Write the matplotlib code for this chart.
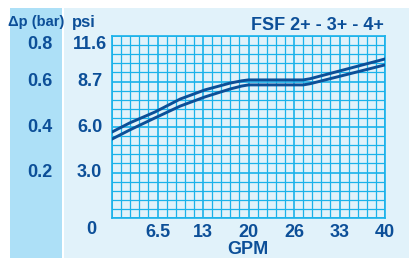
import numpy as np
import matplotlib.pyplot as plt
from matplotlib.patches import Rectangle

plt.rcParams['font.family'] = ['Liberation Sans', 'DejaVu Sans']

# data (GPM vs pressure drop in bar)
gpm_upper = [0, 2.6, 6.3, 10, 13.6, 17.3, 19, 20, 28, 29, 40]
bar_upper = [0.378, 0.418, 0.466, 0.523, 0.563, 0.593, 0.603, 0.607, 0.607, 0.612, 0.699]
gpm_lower = [0, 2.6, 6.3, 10, 13.6, 17.3, 19, 20, 28, 29, 40]
bar_lower = [0.347, 0.387, 0.440, 0.492, 0.532, 0.567, 0.580, 0.585, 0.585, 0.590, 0.673]

x_ticks = [0, 40/6, 80/6, 20, 160/6, 200/6, 40]
x_labels = ['', '6.5', '13', '20', '26', '33', '40']
bar_ticks = [0.2, 0.4, 0.6, 0.8]
bar_labels = ['0.2', '0.4', '0.6', '0.8']
psi_labels = ['3.0', '6.0', '8.7', '11.6']

dark = '#0c4f98'
cyan = '#1ab2ea'
fs = 13

fig = plt.figure(figsize=(4.09, 2.58), dpi=100)
fig.patch.set_facecolor('white')
# background panels
fig.add_artist(Rectangle((10/409, 0), 52/409, 250/258, transform=fig.transFigure,
                         facecolor='#ade0f7', edgecolor='none', zorder=0))
fig.add_artist(Rectangle((64/409, 0), 345/409, 250/258, transform=fig.transFigure,
                         facecolor='#e1f2fa', edgecolor='none', zorder=0))

ax = fig.add_axes([112/409, 40/258, 273/409, 182/258])
ax.set_facecolor('#e1f2fa')

ax.plot(gpm_upper, bar_upper, color=dark, lw=2.1, solid_joinstyle='round', zorder=5)
ax.plot(gpm_lower, bar_lower, color=dark, lw=2.1, solid_joinstyle='round', zorder=5)

ax.set_xlim(0, 40)
ax.set_ylim(0, 0.8)
ax.set_xticks(np.linspace(0, 40, 31), minor=True)
ax.set_yticks(np.linspace(0, 0.8, 21), minor=True)
ax.set_xticks(x_ticks)
ax.set_xticklabels(x_labels, fontsize=fs, fontweight='bold', color=dark)
ax.set_yticks([0] + bar_ticks)
ax.tick_params(which='both', length=0)
ax.tick_params(axis='x', pad=4)
ax.tick_params(axis='y', labelleft=False)
ax.grid(which='minor', color=cyan, lw=0.9)
ax.grid(which='major', color=cyan, lw=1.2)
ax.set_axisbelow(True)
for s in ax.spines.values():
    s.set_color(cyan)
    s.set_linewidth(1.2)

ytr = ax.get_yaxis_transform()
for v, b, p in zip(bar_ticks, bar_labels, psi_labels):
    va = 'top' if v == 0.8 else 'center'
    ax.text(-0.265, v, b, transform=ytr, ha='center', va=va, fontsize=fs,
            fontweight='bold', color=dark)
    ax.text(-0.082, v, p, transform=ytr, ha='center', va=va, fontsize=fs,
            fontweight='bold', color=dark)

fig.text(91/409, 1 - 229/258, '0', ha='center', va='center', fontsize=fs,
         fontweight='bold', color=dark)
fig.text(36/409, 1 - 22/258, 'Δp (bar)', ha='center', va='center', fontsize=10.5,
         fontweight='bold', color=dark)
fig.text(72/409, 1 - 22/258, 'psi', ha='left', va='center', fontsize=12,
         fontweight='bold', color=dark)
fig.text(384/409, 1 - 25/258, 'FSF 2+ - 3+ - 4+', ha='right', va='center',
         fontsize=fs, fontweight='bold', color=dark)
fig.text(248/409, 1 - 250/258, 'GPM', ha='center', va='center', fontsize=fs,
         fontweight='bold', color=dark)

plt.savefig('out.png', dpi=100)
